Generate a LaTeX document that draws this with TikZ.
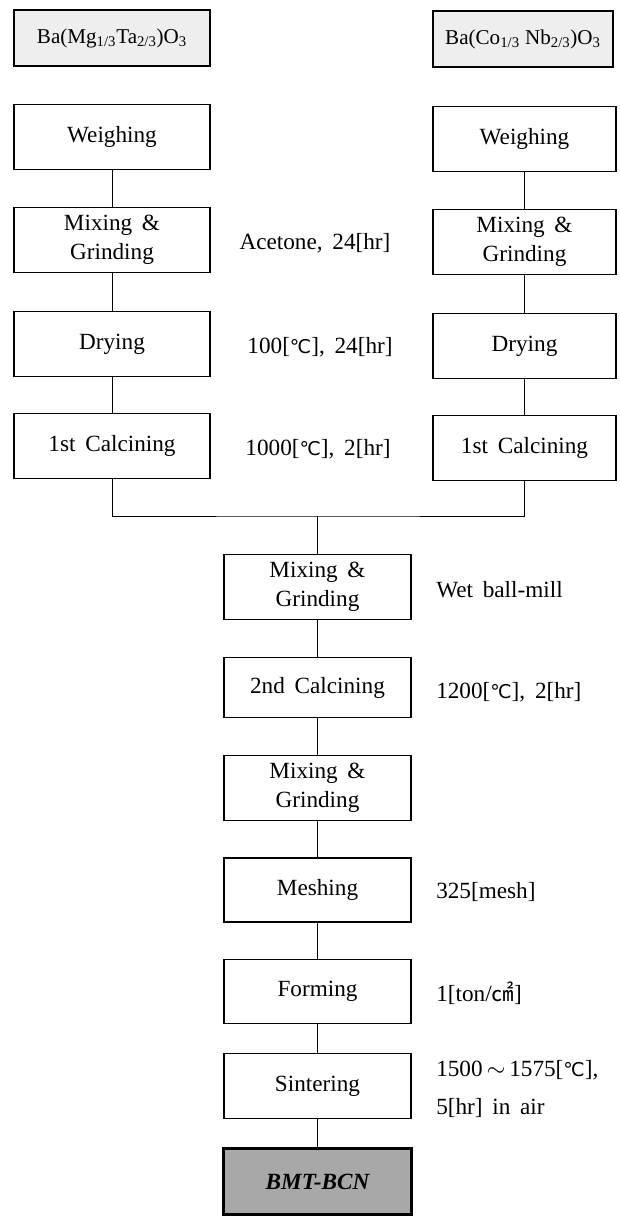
\documentclass[tikz,border=0pt]{standalone}
\usepackage{fontspec}
\setmainfont{Liberation Serif}
\newfontfamily\symfont{DejaVu Sans}
\newfontfamily\cjkfont{Noto Sans CJK KR}
\newcommand{\degC}{{\symfont\fontsize{13.5}{16}\selectfont ℃}}
\newcommand{\sqcm}{{\cjkfont\fontsize{16}{16}\selectfont ㎠}}
\newcommand{\widespace}{\spaceskip=0.42em plus 0.1em\relax}
\definecolor{rawgray}{RGB}{238,238,238}
\definecolor{endgray}{RGB}{168,168,168}

\begin{document}
\begin{tikzpicture}[x=0.025cm, y=-0.025cm,
  every node/.style={font=\fontsize{16.5}{21}\selectfont\widespace},
  procbox/.style={draw, line width=0.8pt, minimum height=1.625cm, align=center, inner sep=2pt},
  rawbox/.style={draw, line width=1.8pt, fill=rawgray, minimum height=1.4cm, align=center, inner sep=2pt,
    font=\fontsize{15}{18}\selectfont},
  note/.style={align=left, inner sep=0pt},
  link/.style={line width=0.6pt}]
\useasboundingbox (0,0) rectangle (619,1216);
% raw materials
\node[rawbox, minimum width=4.9cm] (lraw) at (112,38) {Ba(Mg\textsubscript{1/3}Ta\textsubscript{2/3})O\textsubscript{3}};
\node[rawbox, minimum width=4.5cm] (rraw) at (523,39) {Ba(Co\textsubscript{1/3} Nb\textsubscript{2/3})O\textsubscript{3}};
% left column
\node[procbox, minimum width=4.9cm] (lweigh) at (112,137) {Weighing};
\node[procbox, minimum width=4.9cm] (lmix) at (112,240) {Mixing \&\\Grinding};
\node[procbox, minimum width=4.9cm] (ldry) at (112,344) {Drying};
\node[procbox, minimum width=4.9cm] (lcalc) at (112,446) {1st Calcining};
% right column
\node[procbox, minimum width=4.575cm] (rweigh) at (524.5,139) {Weighing};
\node[procbox, minimum width=4.575cm] (rmix) at (524.5,242) {Mixing \&\\Grinding};
\node[procbox, minimum width=4.575cm] (rdry) at (524.5,346) {Drying};
\node[procbox, minimum width=4.575cm] (rcalc) at (524.5,448) {1st Calcining};
% conditions between the columns
\node[note] (nacet) at (315,243) {Acetone, 24[hr]};
\node[note] (ndry) at (320,347) {100[\degC], 24[hr]};
\node[note] (ncalc) at (318,449) {1000[\degC], 2[hr]};
% common line
\coordinate (join) at (317.5,516);
\node[procbox, minimum width=4.675cm] (cmix) at (317.5,587) {Mixing \&\\Grinding};
\node[procbox, minimum width=4.675cm, minimum height=1.5cm] (ccalc) at (317.5,687.5) {2nd Calcining};
\node[procbox, minimum width=4.675cm] (cmix2) at (317.5,788) {Mixing \&\\Grinding};
\node[procbox, minimum width=4.675cm, minimum height=1.6cm] (cmesh) at (317.5,890) {Meshing};
\node[procbox, minimum width=4.675cm, minimum height=1.6cm] (cform) at (317.5,991.5) {Forming};
\node[procbox, minimum width=4.675cm] (csint) at (317.5,1086) {Sintering};
\node[draw, line width=1.8pt, fill=endgray, minimum width=4.7cm, minimum height=1.65cm,
  font=\fontsize{16.5}{21}\selectfont\bfseries\itshape] (bmt) at (317.5,1181.5) {BMT-BCN};
% conditions on the right
\node[note, anchor=west] (nwet) at (436,590) {Wet ball-mill};
\node[note, anchor=west] (ncalc2) at (436,692) {1200[\degC], 2[hr]};
\node[note, anchor=west] (nmesh) at (436,892) {325[mesh]};
\node[note, anchor=west] (nform) at (436,993) {1[ton/\sqcm]};
\node[note, anchor=west, font=\fontsize{16.5}{27}\selectfont\widespace] (nsint) at (436,1089) {1500\,$\sim$\,1575[\degC],\\5[hr] in air};
% connectors
\foreach \a/\b in {lweigh/lmix, lmix/ldry, ldry/lcalc, rweigh/rmix, rmix/rdry, rdry/rcalc,
  cmix/ccalc, ccalc/cmix2, cmix2/cmesh, cmesh/cform, cform/csint, csint/bmt}
  \draw[link] (\a.south) -- (\b.north);
\draw[link] (lcalc.south) |- (join) -| (rcalc.south);
\draw[link] (join) -- (cmix.north);
\end{tikzpicture}
\end{document}
